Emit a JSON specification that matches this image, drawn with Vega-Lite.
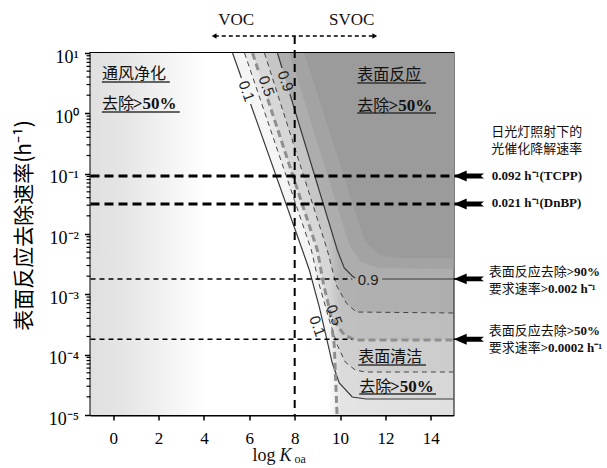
{
  "$schema": "https://vega.github.io/schema/vega-lite/v6.json",
  "width": 363,
  "height": 362,
  "autosize": {"type": "none"},
  "padding": {"left": 90.5, "top": 53, "right": 153.5, "bottom": 53},
  "background": "white",
  "config": {"view": {"stroke": "#000", "strokeWidth": 2}, "axis": {"grid": false}},
  "datasets": {
    "bg": [{"x1": -1, "x2": 15, "y1": 0.00001, "y2": 10}],
    "c01": [
      {"x": 5.262, "y": 10, "s": "a"}, {"x": 5.652, "y": 3.85, "s": "a"},
      {"x": 6.057, "y": 1.43, "s": "b"}, {"x": 8.338, "y": 0.005428, "s": "b"},
      {"x": 8.646, "y": 0.00253, "s": "b"}, {"x": 9.086, "y": 0.000616, "s": "b"},
      {"x": 9.393, "y": 0.000196, "s": "b"}, {"x": 9.657, "y": 0.0000727, "s": "b"},
      {"x": 9.965, "y": 0.0000339, "s": "b"}, {"x": 10.536, "y": 0.0000199, "s": "b"},
      {"x": 11.152, "y": 0.0000184, "s": "b"}, {"x": 15.1, "y": 0.0000184, "s": "b"}
    ],
    "c03": [
      {"x": 5.789, "y": 10, "s": "a"}, {"x": 8.734, "y": 0.005428, "s": "a"},
      {"x": 9.086, "y": 0.001427, "s": "a"}, {"x": 9.525, "y": 0.000375, "s": "a"},
      {"x": 9.877, "y": 0.0001445, "s": "a"}, {"x": 10.229, "y": 0.0000755, "s": "a"},
      {"x": 10.668, "y": 0.0000557, "s": "a"}, {"x": 11.108, "y": 0.0000516, "s": "a"},
      {"x": 15.1, "y": 0.0000516, "s": "a"}
    ],
    "c05": [
      {"x": 6.141, "y": 10, "s": "a"}, {"x": 6.431, "y": 4.66, "s": "a"},
      {"x": 6.809, "y": 1.73, "s": "b"}, {"x": 8.998, "y": 0.005428, "s": "b"},
      {"x": 9.262, "y": 0.00154, "s": "b"}, {"x": 9.613, "y": 0.000421, "s": "b"},
      {"x": 10.185, "y": 0.0002116, "s": "b"}, {"x": 10.668, "y": 0.0001749, "s": "b"},
      {"x": 15.1, "y": 0.0001749, "s": "b"}
    ],
    "c05v": [
      {"x": 9.657, "y": 0.000256}, {"x": 9.745, "y": 0.0001445}, {"x": 9.789, "y": 0.0000557},
      {"x": 9.833, "y": 0.0000214}, {"x": 9.877, "y": 0.00000826}
    ],
    "c07": [
      {"x": 6.668, "y": 10, "s": "a"}, {"x": 9.437, "y": 0.005428, "s": "a"},
      {"x": 9.833, "y": 0.001427, "s": "a"}, {"x": 10.273, "y": 0.000718, "s": "a"},
      {"x": 10.712, "y": 0.000509, "s": "a"}, {"x": 15.1, "y": 0.00049, "s": "a"}
    ],
    "c09": [
      {"x": 7.24, "y": 10, "s": "a"}, {"x": 7.442, "y": 5.64, "s": "a"},
      {"x": 7.789, "y": 2.09, "s": "b"}, {"x": 9.877, "y": 0.005428, "s": "b"},
      {"x": 10.185, "y": 0.00273, "s": "b"}, {"x": 10.536, "y": 0.002012, "s": "b"},
      {"x": 10.668, "y": 0.001865, "s": "b"},
      {"x": 11.855, "y": 0.001794, "s": "c"}, {"x": 15.1, "y": 0.001794, "s": "c"}
    ],
    "s1": [
      {"x": 7.767, "y": 10}, {"x": 10.404, "y": 0.006569}, {"x": 10.932, "y": 0.003433},
      {"x": 11.723, "y": 0.00273}, {"x": 15.1, "y": 0.002628}
    ],
    "s2": [
      {"x": 8.426, "y": 10}, {"x": 11.064, "y": 0.007951}, {"x": 11.723, "y": 0.004485},
      {"x": 12.602, "y": 0.004}, {"x": 15.1, "y": 0.004}
    ],
    "refThick": [
      {"r": 0.0914, "x1": -1, "x2": 15.25},
      {"r": 0.0314, "x1": -1, "x2": 15.25}
    ],
    "refThin": [
      {"r": 0.0018, "x1": -1, "x2": 10.536},
      {"r": 0.0018, "x1": 15.0, "x2": 15.3},
      {"r": 0.00018, "x1": -1, "x2": 10.536},
      {"r": 0.00018, "x1": 15.0, "x2": 15.3}
    ],
    "minorY": [
      {"v": 0.00002}, {"v": 0.00003}, {"v": 0.00004}, {"v": 0.00005}, {"v": 0.00006}, {"v": 0.00007}, {"v": 0.00008}, {"v": 0.00009},
      {"v": 0.0002}, {"v": 0.0003}, {"v": 0.0004}, {"v": 0.0005}, {"v": 0.0006}, {"v": 0.0007}, {"v": 0.0008}, {"v": 0.0009},
      {"v": 0.002}, {"v": 0.003}, {"v": 0.004}, {"v": 0.005}, {"v": 0.006}, {"v": 0.007}, {"v": 0.008}, {"v": 0.009},
      {"v": 0.02}, {"v": 0.03}, {"v": 0.04}, {"v": 0.05}, {"v": 0.06}, {"v": 0.07}, {"v": 0.08}, {"v": 0.09},
      {"v": 0.2}, {"v": 0.3}, {"v": 0.4}, {"v": 0.5}, {"v": 0.6}, {"v": 0.7}, {"v": 0.8}, {"v": 0.9},
      {"v": 2}, {"v": 3}, {"v": 4}, {"v": 5}, {"v": 6}, {"v": 7}, {"v": 8}, {"v": 9}
    ],
    "arrows": [
      {"x": 15.68, "y": 0.0914}, {"x": 15.68, "y": 0.0314}, {"x": 15.68, "y": 0.0018}, {"x": 15.68, "y": 0.00018}
    ],
    "ul": [
      {"x1": -0.497, "x2": 2.497, "y": 3.306},
      {"x1": -0.497, "x2": 2.937, "y": 1.052},
      {"x1": 10.756, "x2": 13.789, "y": 3.182},
      {"x1": 10.756, "x2": 14.229, "y": 1.013},
      {"x1": 10.8, "x2": 13.789, "y": 0.00006737},
      {"x1": 10.844, "x2": 14.229, "y": 0.00002228}
    ]
  },
  "layer": [
    {
      "data": {"name": "bg"},
      "mark": {"type": "rect", "fill": {"gradient": "linear", "x1": 0, "y1": 0, "x2": 1, "y2": 0, "stops": [
        {"offset": 0, "color": "#e0e0e0"}, {"offset": 0.1, "color": "#e6e6e6"}, {"offset": 0.22, "color": "#f4f4f4"},
        {"offset": 0.32, "color": "#ffffff"}, {"offset": 0.655, "color": "#ffffff"}, {"offset": 0.69, "color": "#e4e4e4"},
        {"offset": 1, "color": "#e0e0e0"}]}},
      "encoding": {
        "x": {"field": "x1", "type": "quantitative", "scale": {"domain": [-1, 15], "nice": false, "zero": false},
          "axis": {"values": [0, 1, 2, 3, 4, 5, 6, 7, 8, 9, 10, 11, 12, 13, 14], "labelExpr": "datum.value % 2 == 0 ? datum.label : ''",
            "title": null, "tickSize": 5, "tickColor": "#000", "tickWidth": 1.5, "domainColor": "#000", "domainWidth": 2,
            "labelFont": "Liberation Serif", "labelFontSize": 17, "labelColor": "#000", "labelPadding": 10, "labelFlush": false, "labelOverlap": false}},
        "x2": {"field": "x2"},
        "y": {"field": "y1", "type": "quantitative", "scale": {"type": "log", "domain": [0.00001, 10], "nice": false},
          "axis": {"values": [0.00001, 0.0001, 0.001, 0.01, 0.1, 1, 10],
            "labelExpr": "'10' + ['⁻⁵','⁻⁴','⁻³','⁻²','⁻¹','⁰','¹'][round(log(datum.value)/LN10)+5]",
            "title": "表面反应去除速率(h⁻¹)", "titleFont": "Noto Sans CJK SC", "titleFontSize": 21, "titleFontWeight": "normal",
            "titleColor": "#000", "titleX": -66, "titleY": 172, "titleAngle": -90, "titleAlign": "center", "titleBaseline": "middle",
            "tickSize": 6, "tickColor": "#000", "tickWidth": 1.5, "domainColor": "#000", "domainWidth": 2,
            "labelFont": "Liberation Serif", "labelFontSize": 18, "labelColor": "#000", "labelPadding": 6, "labelOffset": 4,
            "labelFlush": false, "labelOverlap": false}},
        "y2": {"field": "y2"}
      }
    },
    {"data": {"name": "c01"}, "mark": {"type": "area", "color": "#000", "opacity": 0.04, "clip": true},
      "encoding": {"x": {"field": "x", "type": "quantitative"}, "y": {"field": "y", "type": "quantitative"}, "y2": {"datum": 10}}},
    {"data": {"name": "c03"}, "mark": {"type": "area", "color": "#000", "opacity": 0.05, "clip": true},
      "encoding": {"x": {"field": "x", "type": "quantitative"}, "y": {"field": "y", "type": "quantitative"}, "y2": {"datum": 10}}},
    {"data": {"name": "c05"}, "mark": {"type": "area", "color": "#000", "opacity": 0.07, "clip": true},
      "encoding": {"x": {"field": "x", "type": "quantitative"}, "y": {"field": "y", "type": "quantitative"}, "y2": {"datum": 10}}},
    {"data": {"name": "c07"}, "mark": {"type": "area", "color": "#000", "opacity": 0.08, "clip": true},
      "encoding": {"x": {"field": "x", "type": "quantitative"}, "y": {"field": "y", "type": "quantitative"}, "y2": {"datum": 10}}},
    {"data": {"name": "c09"}, "mark": {"type": "area", "color": "#adadad", "opacity": 1, "clip": true},
      "encoding": {"x": {"field": "x", "type": "quantitative"}, "y": {"field": "y", "type": "quantitative"}, "y2": {"datum": 10}}},
    {"data": {"name": "s1"}, "mark": {"type": "area", "color": "#a3a3a3", "opacity": 1, "clip": true},
      "encoding": {"x": {"field": "x", "type": "quantitative"}, "y": {"field": "y", "type": "quantitative"}, "y2": {"datum": 10}}},
    {"data": {"name": "s2"}, "mark": {"type": "area", "color": "#9b9b9b", "opacity": 1, "clip": true},
      "encoding": {"x": {"field": "x", "type": "quantitative"}, "y": {"field": "y", "type": "quantitative"}, "y2": {"datum": 10}}},
    {"data": {"name": "c01"}, "mark": {"type": "line", "color": "#3a3a3a", "strokeWidth": 1.2, "clip": true},
      "encoding": {"x": {"field": "x", "type": "quantitative"}, "y": {"field": "y", "type": "quantitative"}, "detail": {"field": "s"}}},
    {"data": {"name": "c03"}, "mark": {"type": "line", "color": "#444", "strokeWidth": 1, "strokeDash": [5, 4], "clip": true},
      "encoding": {"x": {"field": "x", "type": "quantitative"}, "y": {"field": "y", "type": "quantitative"}, "detail": {"field": "s"}}},
    {"data": {"name": "c05"}, "mark": {"type": "line", "color": "#8f8f8f", "strokeWidth": 3, "strokeDash": [7, 4], "clip": true},
      "encoding": {"x": {"field": "x", "type": "quantitative"}, "y": {"field": "y", "type": "quantitative"}, "detail": {"field": "s"}}},
    {"data": {"name": "c05v"}, "mark": {"type": "line", "color": "#8f8f8f", "strokeWidth": 3, "strokeDash": [7, 4], "clip": true},
      "encoding": {"x": {"field": "x", "type": "quantitative"}, "y": {"field": "y", "type": "quantitative"}}},
    {"data": {"name": "c07"}, "mark": {"type": "line", "color": "#444", "strokeWidth": 1, "strokeDash": [5, 4], "clip": true},
      "encoding": {"x": {"field": "x", "type": "quantitative"}, "y": {"field": "y", "type": "quantitative"}, "detail": {"field": "s"}}},
    {"data": {"name": "c09"}, "mark": {"type": "line", "color": "#3a3a3a", "strokeWidth": 1.2, "clip": true},
      "encoding": {"x": {"field": "x", "type": "quantitative"}, "y": {"field": "y", "type": "quantitative"}, "detail": {"field": "s"}}},
    {"data": {"name": "minorY"}, "mark": {"type": "rule", "color": "#000", "strokeWidth": 1.2},
      "encoding": {"y": {"field": "v", "type": "quantitative"}, "x": {"datum": -1.176}, "x2": {"datum": -1}}},
    {"data": {"name": "refThick"}, "mark": {"type": "rule", "color": "#000", "strokeWidth": 3, "strokeDash": [9, 5]},
      "encoding": {"y": {"field": "r", "type": "quantitative"}, "x": {"field": "x1", "type": "quantitative"}, "x2": {"field": "x2"}}},
    {"data": {"name": "refThin"}, "mark": {"type": "rule", "color": "#000", "strokeWidth": 1.5, "strokeDash": [5, 4]},
      "encoding": {"y": {"field": "r", "type": "quantitative"}, "x": {"field": "x1", "type": "quantitative"}, "x2": {"field": "x2"}}},
    {"data": {"values": [{"x": 8, "y1": 19.1, "y2": 0.00001}]}, "mark": {"type": "rule", "color": "#000", "strokeWidth": 2, "strokeDash": [8, 6]},
      "encoding": {"x": {"field": "x", "type": "quantitative"}, "y": {"field": "y1", "type": "quantitative"}, "y2": {"field": "y2"}}},
    {"data": {"values": [{"x1": 4.479, "x2": 11.5, "y": 19.1}]}, "mark": {"type": "rule", "color": "#000", "strokeWidth": 1.5, "strokeDash": [4, 3]},
      "encoding": {"x": {"field": "x1", "type": "quantitative"}, "x2": {"field": "x2"}, "y": {"field": "y", "type": "quantitative"}}},
    {"data": {"values": [{"x": 4.45, "y": 19.1, "sh": "triangle-left"}, {"x": 11.53, "y": 19.1, "sh": "triangle-right"}]},
      "mark": {"type": "point", "filled": true, "color": "#000", "size": 30, "opacity": 1},
      "encoding": {"x": {"field": "x", "type": "quantitative"}, "y": {"field": "y", "type": "quantitative"}, "shape": {"field": "sh", "type": "nominal", "scale": null}}},
    {"data": {"name": "arrows"},
      "mark": {"type": "point", "filled": true, "color": "#000", "opacity": 1, "size": 900,
        "shape": "M-1,0 L-0.15,-0.36 L-0.15,-0.16 L1,-0.16 L0.8,0 L1,0.16 L-0.15,0.16 L-0.15,0.36 Z"},
      "encoding": {"x": {"field": "x", "type": "quantitative"}, "y": {"field": "y", "type": "quantitative"}}},
    {"data": {"name": "ul"}, "mark": {"type": "rule", "color": "#333", "strokeWidth": 1.5},
      "encoding": {"x": {"field": "x1", "type": "quantitative"}, "x2": {"field": "x2"}, "y": {"field": "y", "type": "quantitative"}}},
    {"data": {"values": [
        {"x": 5.876, "y": 2.345, "t": "0.1"}, {"x": 6.756, "y": 2.84, "t": "0.5"}, {"x": 7.591, "y": 3.44, "t": "0.9"},
        {"x": 9.745, "y": 0.000454, "t": "0.5"}, {"x": 8.998, "y": 0.000299, "t": "0.1"}]},
      "mark": {"type": "text", "angle": 70, "font": "Liberation Sans", "fontSize": 15, "color": "#222", "align": "center", "baseline": "middle"},
      "encoding": {"x": {"field": "x", "type": "quantitative"}, "y": {"field": "y", "type": "quantitative"}, "text": {"field": "t"}}},
    {"data": {"values": [{"x": 11.24, "y": 0.001727, "t": "0.9"}]},
      "mark": {"type": "text", "font": "Liberation Sans", "fontSize": 15, "color": "#222", "align": "center", "baseline": "middle"},
      "encoding": {"x": {"field": "x", "type": "quantitative"}, "y": {"field": "y", "type": "quantitative"}, "text": {"field": "t"}}},
    {"data": {"values": [
        {"x": -0.497, "y": 4.486, "t": "通风净化"}, {"x": -0.497, "y": 1.428, "t": "去除"},
        {"x": 10.756, "y": 4.318, "t": "表面反应"}, {"x": 10.756, "y": 1.323, "t": "去除"},
        {"x": 10.8, "y": 0.0000914, "t": "表面清洁"}, {"x": 10.844, "y": 0.0000291, "t": "去除"}]},
      "mark": {"type": "text", "font": "Noto Sans CJK SC", "fontSize": 16, "color": "#111", "align": "left", "baseline": "middle"},
      "encoding": {"x": {"field": "x", "type": "quantitative"}, "y": {"field": "y", "type": "quantitative"}, "text": {"field": "t"}}},
    {"data": {"values": [
        {"x": 0.866, "y": 1.428, "t": ">50%"}, {"x": 12.136, "y": 1.323, "t": ">50%"}, {"x": 12.2, "y": 0.0000291, "t": ">50%"}]},
      "mark": {"type": "text", "font": "Liberation Serif", "fontWeight": "bold", "fontSize": 17, "color": "#111", "align": "left", "baseline": "middle"},
      "encoding": {"x": {"field": "x", "type": "quantitative"}, "y": {"field": "y", "type": "quantitative"}, "text": {"field": "t"}}},
    {"data": {"values": [
        {"x": 18.668, "y": 0.496, "t": "日光灯照射下的"}, {"x": 18.668, "y": 0.2534, "t": "光催化降解速率"}]},
      "mark": {"type": "text", "font": "Noto Sans CJK SC", "fontSize": 13, "color": "#111", "align": "center", "baseline": "middle"},
      "encoding": {"x": {"field": "x", "type": "quantitative"}, "y": {"field": "y", "type": "quantitative"}, "text": {"field": "t"}}},
    {"data": {"values": [
        {"x": 16.558, "y": 0.00237, "t": "表面反应去除"}, {"x": 16.558, "y": 0.001211, "t": "要求速率"},
        {"x": 16.558, "y": 0.000249, "t": "表面反应去除"}, {"x": 16.558, "y": 0.0001274, "t": "要求速率"}]},
      "mark": {"type": "text", "font": "Noto Sans CJK SC", "fontSize": 13, "color": "#111", "align": "left", "baseline": "middle"},
      "encoding": {"x": {"field": "x", "type": "quantitative"}, "y": {"field": "y", "type": "quantitative"}, "text": {"field": "t"}}},
    {"data": {"values": [
        {"x": 16.69, "y": 0.09145, "t": "0.092 h⁻¹(TCPP)"}, {"x": 16.69, "y": 0.03227, "t": "0.021 h⁻¹(DnBP)"},
        {"x": 19.987, "y": 0.00237, "t": ">90%"}, {"x": 18.844, "y": 0.001211, "t": ">0.002 h⁻¹"},
        {"x": 19.987, "y": 0.000249, "t": ">50%"}, {"x": 18.844, "y": 0.0001274, "t": ">0.0002 h⁻¹"}]},
      "mark": {"type": "text", "font": "Liberation Serif", "fontWeight": "bold", "fontSize": 13, "color": "#111", "align": "left", "baseline": "middle"},
      "encoding": {"x": {"field": "x", "type": "quantitative"}, "y": {"field": "y", "type": "quantitative"}, "text": {"field": "t"}}},
    {"data": {"values": [{"x": 5.424, "y": 35.2, "t": "VOC"}, {"x": 10.514, "y": 35.2, "t": "SVOC"}]},
      "mark": {"type": "text", "font": "Liberation Serif", "fontSize": 17, "color": "#111", "align": "center", "baseline": "middle"},
      "encoding": {"x": {"field": "x", "type": "quantitative"}, "y": {"field": "y", "type": "quantitative"}, "text": {"field": "t"}}},
    {"data": {"values": [{"x": 6.141, "y": 0.000001727, "t": "log"}]},
      "mark": {"type": "text", "font": "Liberation Serif", "fontSize": 18, "color": "#111", "align": "left", "baseline": "alphabetic"},
      "encoding": {"x": {"field": "x", "type": "quantitative"}, "y": {"field": "y", "type": "quantitative"}, "text": {"field": "t"}}},
    {"data": {"values": [{"x": 7.327, "y": 0.000001727, "t": "K"}]},
      "mark": {"type": "text", "font": "Liberation Serif", "fontStyle": "italic", "fontSize": 18, "color": "#111", "align": "left", "baseline": "alphabetic"},
      "encoding": {"x": {"field": "x", "type": "quantitative"}, "y": {"field": "y", "type": "quantitative"}, "text": {"field": "t"}}},
    {"data": {"values": [{"x": 7.987, "y": 0.000001727, "t": "oa"}]},
      "mark": {"type": "text", "font": "Liberation Serif", "fontSize": 12, "color": "#111", "align": "left", "baseline": "alphabetic", "dy": 2},
      "encoding": {"x": {"field": "x", "type": "quantitative"}, "y": {"field": "y", "type": "quantitative"}, "text": {"field": "t"}}}
  ]
}
